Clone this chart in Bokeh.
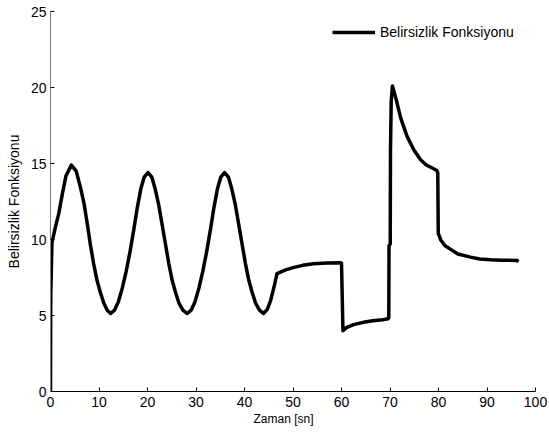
#!/usr/bin/env python3
"""
Belirsizlik fonksiyonu zaman grafigi (Bokeh).
"""

from bokeh.plotting import figure
from bokeh.embed import file_html
from bokeh.resources import INLINE
from bokeh.models import ColumnDataSource, FixedTicker, Range1d, Title


# Zaman [sn] ve belirsizlik fonksiyonu degerleri
time_s = [
    0.0, 0.05, 0.3, 1.0, 1.7, 2.5, 3.2, 4.3, 5.3, 6.2, 6.9, 7.6, 8.2, 8.9,
    9.6, 10.3, 11.0, 11.7, 12.4, 13.2, 14.0, 14.8, 15.6, 16.4, 17.2, 17.9,
    18.6, 19.3, 20.1, 20.9, 21.6, 22.3, 23.0, 23.7, 24.4, 25.1, 25.8, 26.5,
    27.3, 28.2, 29.0, 29.8, 30.6, 31.4, 32.2, 33.0, 33.7, 34.4, 35.1, 35.9,
    36.7, 37.4, 38.1, 38.8, 39.5, 40.2, 40.9, 41.6, 42.3, 43.1, 43.9, 44.7,
    45.4, 46.1, 46.6, 46.7, 47.4, 48.5, 50.0, 52.0, 54.2, 57.0, 59.8, 60.0,
    60.3, 61.0, 62.5, 64.5, 66.5, 68.5, 69.6, 69.75, 69.8, 70.05, 70.1,
    70.25, 70.5, 71.2, 72.2, 73.5, 74.9, 76.3, 77.5, 79.0, 79.6, 79.85,
    79.95, 80.5, 81.3, 82.5, 84.0, 86.6, 88.5, 90.7, 93.0, 96.2, 96.5,
]
belirsizlik = [
    0.0, 6.3, 9.8, 10.8, 11.7, 13.1, 14.2, 14.9, 14.5, 13.4, 12.4, 11.0, 9.7,
    8.4, 7.3, 6.5, 5.8, 5.35, 5.13, 5.35, 5.9, 6.8, 7.9, 9.2, 10.7, 12.1,
    13.3, 14.1, 14.4, 14.1, 13.3, 12.3, 11.0, 9.7, 8.4, 7.3, 6.5, 5.8,
    5.35, 5.13, 5.35, 5.9, 6.8, 7.9, 9.2, 10.7, 12.1, 13.3, 14.1, 14.4,
    14.1, 13.3, 12.3, 11.0, 9.7, 8.4, 7.3, 6.5, 5.8, 5.35, 5.13, 5.4,
    6.0, 6.9, 7.6, 7.75, 7.85, 8.0, 8.15, 8.3, 8.4, 8.45, 8.47, 8.45,
    4.0, 4.2, 4.4, 4.55, 4.65, 4.72, 4.78, 4.85, 9.6, 9.7, 15.85,
    19.1, 20.1, 19.3, 18.0, 16.8, 15.9, 15.25, 14.9, 14.65, 14.55, 14.4,
    10.4, 9.95, 9.6, 9.35, 9.05, 8.84, 8.72, 8.66, 8.64, 8.62, 8.55,
]

x_ticks = [0, 10, 20, 30, 40, 50, 60, 70, 80, 90, 100]
y_ticks = [0, 5, 10, 15, 20, 25]

FONT = "Liberation Sans"


def make_plot() -> figure:
    p = figure(
        width=549,
        height=436,
        x_range=Range1d(0, 100),
        y_range=Range1d(0, 25),
        output_backend="svg",
        toolbar_location=None,
        min_border_left=50,
        min_border_right=14,
        min_border_top=11,
        min_border_bottom=45,
    )
    p.outline_line_color = None
    p.grid.visible = False
    p.background_fill_color = "white"
    p.border_fill_color = "white"

    source = ColumnDataSource(dict(t=time_s, v=belirsizlik))
    p.line(x="t", y="v", source=source, line_color="black", line_width=3.5,
           line_join="round", legend_label="Belirsizlik Fonksiyonu")

    # Eksenler: icten tikler, kutu yok
    for ax in (p.xaxis[0], p.yaxis[0]):
        ax.major_tick_in = 4
        ax.major_tick_out = 0
        ax.minor_tick_line_color = None
        ax.major_tick_line_color = "black"
        ax.major_label_text_font = FONT
        ax.major_label_text_font_size = "14px"
        ax.major_label_text_color = "black"
        ax.major_label_standoff = 4
    p.xaxis.major_label_standoff = 5

    p.xaxis.ticker = FixedTicker(ticks=x_ticks)
    p.yaxis.ticker = FixedTicker(ticks=y_ticks)
    p.xaxis.axis_line_color = "black"
    p.yaxis.axis_line_color = "#808080"

    # y ekseni etiketi
    p.yaxis.axis_label = "Belirsizlik Fonksiyonu"
    p.yaxis.axis_label_text_font = FONT
    p.yaxis.axis_label_text_font_size = "14px"
    p.yaxis.axis_label_text_font_style = "normal"
    p.yaxis.axis_label_text_color = "black"
    p.yaxis.axis_label_standoff = 6

    # x ekseni etiketi: referansta biraz sola kaymis, Title ile yerlestir
    xlab = Title(
        text="Zaman [sn]", align="left", offset=203, standoff=0,
        text_font=FONT, text_font_size="12px", text_font_style="normal",
        text_color="black",
    )
    p.add_layout(xlab, "below")

    # Lejant
    p.legend.location = (282, 349)
    p.legend.padding = 0
    p.legend.margin = 0
    p.legend.spacing = 0
    p.legend.glyph_width = 43
    p.legend.label_standoff = 5
    p.legend.border_line_color = None
    p.legend.background_fill_alpha = 0
    p.legend.label_text_font = FONT
    p.legend.label_text_font_size = "14px"
    p.legend.label_text_color = "black"
    p.legend.items[0].renderers[0].glyph.line_width = 3.5

    return p


if __name__ == "__main__":
    plot = make_plot()
    open("out.html", "w").write(file_html(plot, INLINE))
